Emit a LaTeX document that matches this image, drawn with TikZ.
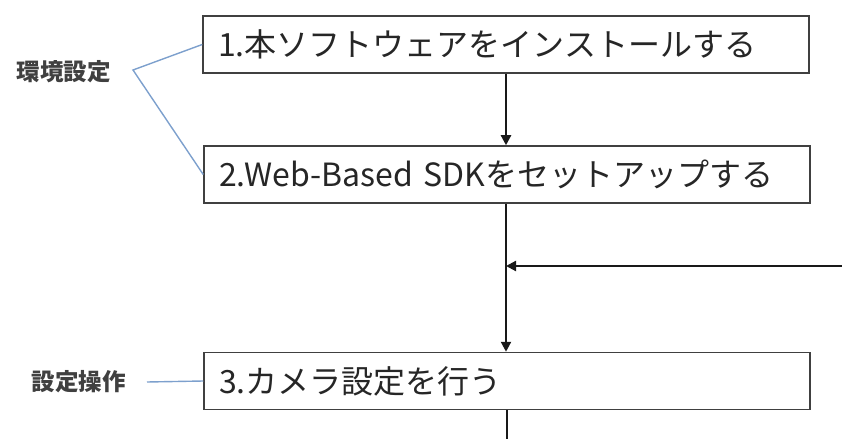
\documentclass[tikz,border=0pt]{standalone}
\usepackage{fontspec}
\setmainfont{Noto Sans CJK JP}
\usetikzlibrary{arrows.meta}
\definecolor{linkblue}{RGB}{125,160,205}
\begin{document}
\begin{tikzpicture}[x=1pt,y=1pt,
  stepbox/.style={draw=black!75,line width=1.5pt,minimum height=57pt,inner xsep=15pt,
    text width=576pt,align=left,font=\fontsize{32}{34}\selectfont,text=black!85},
  side/.style={font=\fontsize{23.5}{26}\selectfont\bfseries,text=black!75},
  bl/.style={draw=linkblue,line width=1.4pt},
  flow/.style={draw=black!90,line width=2.2pt,-{Triangle[length=10pt,width=10pt]}}]
\useasboundingbox (0,0) rectangle (842,439);
\node[stepbox] (b1) at (506,394.5) {1.本ソフトウェアをインストールする};
\node[stepbox] (b2) at (507,264.5) {2.Web-Based SDKをセットアップする};
\node[stepbox] (b3) at (507,58) {3.カメラ設定を行う};
\node[side] (l1) at (63.5,367) {環境設定};
\node[side] (l2) at (78.5,57) {設定操作};
\coordinate (bend) at (133,369);
\draw[bl] (b1.west) -- (bend) -- (b2.west);
\coordinate (l2end) at (147,57);
\draw[bl] (l2end) -- (b3.west);
\draw[flow] (b1.south) -- (b1.south |- b2.north);
\coordinate (rin) at (842,173);
\coordinate (join) at (b1.south |- rin);
\draw[flow] (rin) -- (join);
\draw[flow] (b1.south |- b2.south) -- (b1.south |- b3.north);
\coordinate (bot) at (507,0);
\draw[draw=black!90,line width=2.2pt] (b3.south) -- (bot);
\end{tikzpicture}
\end{document}
